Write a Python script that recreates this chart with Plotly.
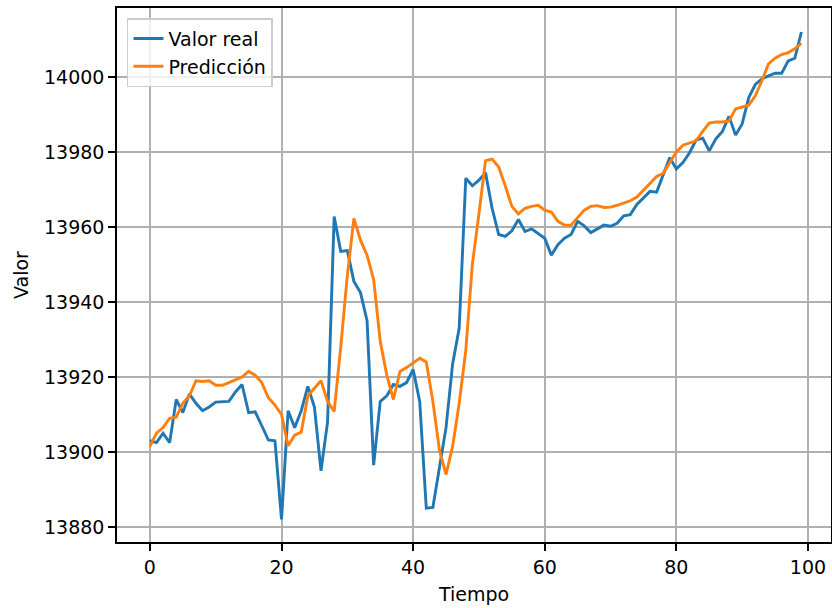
import plotly.graph_objects as go

tiempo = list(range(100))

valor_real = [
    13903, 13902.5, 13905, 13902.5, 13914, 13910.5, 13915.5, 13913, 13911, 13912,
    13913.3, 13913.5, 13913.5, 13916, 13918, 13910.5, 13910.7, 13907, 13903.2, 13903,
    13882, 13911, 13906.5, 13911, 13917.5, 13912, 13895, 13908, 13962.8, 13953.5,
    13953.7, 13945.5, 13942.5, 13935, 13896.5, 13913.5, 13915, 13918, 13917.5, 13918.5,
    13922, 13913.5, 13885, 13885.2, 13896, 13906.5, 13923.5, 13933, 13973, 13971,
    13972.5, 13974.5, 13965, 13958, 13957.5, 13959, 13962, 13958.8, 13959.5, 13958.2,
    13957, 13952.5, 13955.3, 13957, 13958, 13961.5, 13960.3, 13958.5, 13959.5, 13960.5,
    13960.2, 13961, 13963, 13963.3, 13966, 13967.8, 13969.5, 13969.3, 13974, 13978.5,
    13975.5, 13977.2, 13979.8, 13983.2, 13983.7, 13980.3, 13983.5, 13985.5, 13989.5, 13984.5,
    13987.5, 13994.5, 13998, 13999.5, 14000.3, 14001, 14001, 14004.3, 14005, 14012,
]

prediccion = [
    13901.5, 13905, 13906.5, 13909, 13909.3, 13913, 13915, 13919, 13918.8, 13919,
    13917.8, 13917.8, 13918.5, 13919.2, 13920, 13921.5, 13920.5, 13918.5, 13914.5, 13912.5,
    13910, 13901.7, 13904.5, 13905.3, 13915, 13917, 13919, 13913.5, 13910.8, 13928,
    13947, 13962.3, 13956.5, 13952.5, 13946, 13929.5, 13920.5, 13914, 13921.5, 13922.5,
    13923.7, 13925, 13924, 13913.5, 13900.5, 13894, 13901.5, 13913, 13927, 13950,
    13963.5, 13977.7, 13978.1, 13976, 13971, 13965.5, 13963.5, 13965, 13965.5, 13965.8,
    13964.5, 13964, 13961.5, 13960.5, 13960.5, 13962.5, 13964.5, 13965.5, 13965.7, 13965.2,
    13965.3, 13965.8, 13966.3, 13967, 13968, 13969.8, 13971.8, 13973.5, 13974.3, 13977,
    13980, 13981.8, 13982.5, 13983, 13985.5, 13987.7, 13988, 13988, 13988.3, 13991.5,
    13992, 13992.5, 13995, 13999, 14003.5, 14005, 14006, 14006.5, 14007.5, 14009,
]

x_ticks = [0, 20, 40, 60, 80, 100]
y_ticks = [13880, 13900, 13920, 13940, 13960, 13980, 14000]

FS = 19

fig = go.Figure()
fig.add_trace(go.Scatter(x=tiempo, y=valor_real, mode="lines", name="Valor real",
                         line=dict(color="#1f77b4", width=2.9)))
fig.add_trace(go.Scatter(x=tiempo, y=prediccion, mode="lines", name="Predicción",
                         line=dict(color="#ff7f0e", width=2.9)))

axis_common = dict(
    showgrid=True, gridcolor="#b0b0b0", gridwidth=1.5,
    showline=True, linecolor="black", linewidth=1.5, mirror=True,
    ticks="outside", ticklen=7, tickwidth=1.5, tickcolor="black",
    zeroline=False, tickfont=dict(family="DejaVu Sans", size=FS, color="black"),
)

fig.update_layout(
    width=832, height=608,
    margin=dict(l=117, r=1, t=8, b=66),
    paper_bgcolor="white", plot_bgcolor="white",
    font=dict(family="DejaVu Sans", size=FS, color="black"),
    xaxis=dict(range=[-5.0, 103.5], tickvals=x_ticks, tickformat="d", automargin=False,
               title=dict(text="Tiempo", font=dict(size=FS), standoff=11), **axis_common),
    yaxis=dict(range=[13876.0, 14018.4], tickvals=y_ticks, tickformat="d", automargin=False,
               title=dict(text="Valor", font=dict(size=FS), standoff=10), **axis_common),
    legend=dict(x=0.014, y=0.981, xanchor="left", yanchor="top",
                bgcolor="rgba(255,255,255,0.8)", bordercolor="#cccccc", borderwidth=1.5,
                font=dict(size=FS)),
)

fig.write_html(
    "out.html",
    config={"displayModeBar": False},
    post_script="document.body.style.margin='0';document.body.style.overflow='hidden';",
)
